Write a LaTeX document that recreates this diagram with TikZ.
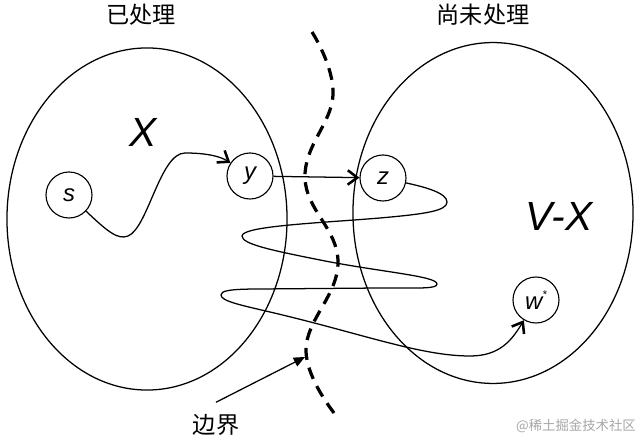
\documentclass[tikz,border=0pt]{standalone}
\usepackage{fontspec}
\setmainfont{Liberation Sans}
\newfontfamily\cjk{Noto Sans CJK SC}
\usetikzlibrary{shapes.geometric, arrows.meta, positioning}
\tikzset{
  setregion/.style={ellipse, draw=black, line width=0.9pt, inner sep=0pt, minimum width=7cm, minimum height=8.55cm},
  vertex/.style={circle, draw=black, line width=0.8pt, fill=white, minimum size=1.15cm, inner sep=0pt, font=\fontsize{17}{17}\selectfont\itshape},
  setname/.style={font=\fontsize{29}{29}\selectfont\itshape},
  headtext/.style={font=\cjk\fontsize{16.5}{18}\selectfont},
  pathline/.style={line width=0.9pt, -{Straight Barb[length=2.4mm, width=3.6mm, line width=1.8pt]}},
  frontier/.style={line width=2.3pt, dash pattern=on 0.3cm off 0.2cm},
  tagarrow/.style={line width=0.9pt, -{Triangle[length=2.8mm, width=2.4mm]}}
}

\begin{document}
\begin{tikzpicture}[x=0.025cm, y=-0.025cm]
    \useasboundingbox (0,0) rectangle (640,438);

    % 1. Conjuntos X y V-X
    \node[setregion] (setX) at (147,219) {};
    \node[setregion, minimum height=8.52cm] (setVX) at (493,213) {};

    \node[headtext] (doneX) at (141,15) {已处理};
    \node[headtext] (todoVX) at (483,15) {尚未处理};
    \node[setname] (nameX) at (143,132) {X};
    \node[setname] (nameVX) at (559,216) {V-X};

    % 2. Vertices
    \node[vertex] (s) at (69,195) {s};
    \node[vertex] (y) at (250,176) {y};
    \node[vertex] (z) at (383,178) {z};
    \node[vertex] (w) at (536,300) {w\raisebox{0.9ex}{\fontsize{8}{8}\selectfont *}};

    % 3. Frontera
    \draw[frontier] plot[smooth, tension=0.7] coordinates {(312,32) (333,95) (305,178) (338,262) (306,350) (338,418)};

    \coordinate (bdtip) at (305,357);
    \node[headtext] (bdlabel) at (216,425) {边界};
    \draw[tagarrow] ([yshift=0.18cm]bdlabel.north) -- (bdtip);

    % 4. Caminos
    \draw[pathline] (s) .. controls (108,232) and (118,240) .. (128,236)
        .. controls (148,228) and (160,153) .. (185,153)
        .. controls (205,153) and (220,156) .. (y);
    \draw[pathline] (y) -- (z);
    \draw[pathline] (z) .. controls (425,187) and (447,193) .. (447,202)
        .. controls (447,211) and (425,214) .. (380,218)
        .. controls (320,223) and (242,226) .. (242,236)
        .. controls (242,244) and (270,250) .. (320,260)
        .. controls (380,272) and (437,276) .. (437,284)
        .. controls (437,289) and (420,288) .. (380,288)
        -- (260,289)
        .. controls (228,289) and (221,291) .. (221,295)
        .. controls (221,301) and (240,305) .. (270,312)
        .. controls (360,333) and (420,356) .. (470,356)
        .. controls (500,356) and (512,340) .. (w);

    % 5. Marca
    \node[font=\cjk\fontsize{9.5}{10}\selectfont, text=black!35] (mark) at (576,426) {@稀土掘金技术社区};
\end{tikzpicture}
\end{document}
